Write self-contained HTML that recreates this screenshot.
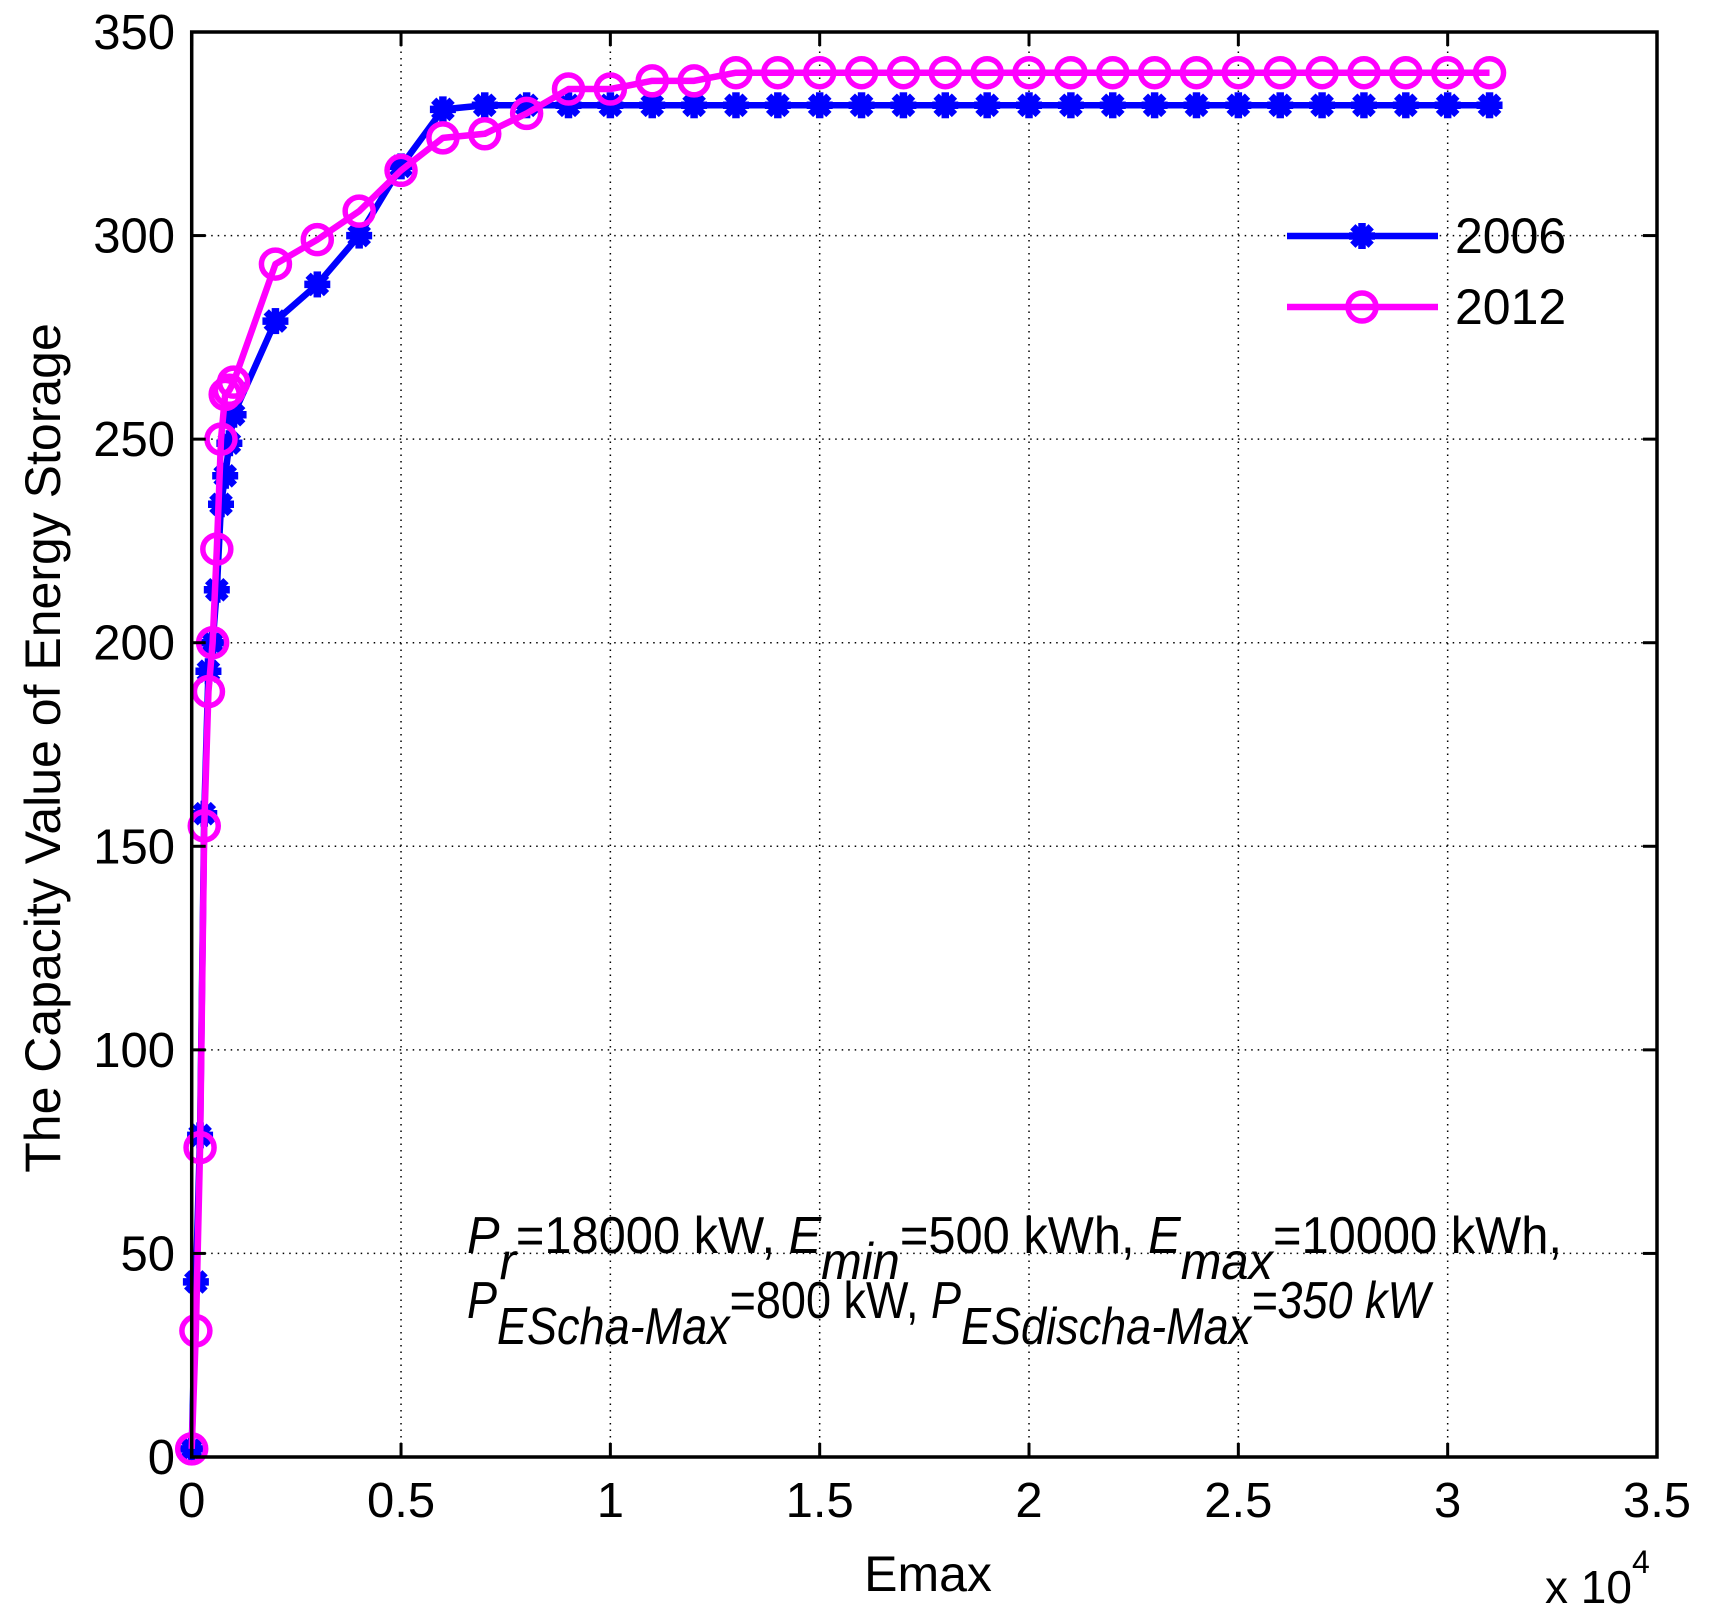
<!DOCTYPE html>
<html><head><meta charset="utf-8"><style>
html,body{margin:0;padding:0;background:#fff;}
svg{display:block;font-family:"Liberation Sans",Arial,sans-serif;}
</style></head><body>
<svg id="chart" width="1709" height="1623" viewBox="0 0 1709 1623" xmlns="http://www.w3.org/2000/svg">
<g id="grid"></g>
<g id="series"></g>
<g id="axes"></g>
<text x="928" y="1591" font-size="50" text-anchor="middle">Emax</text>
<text x="1545" y="1603" font-size="46">x 10<tspan font-size="32" dy="-30">4</tspan></text>
<text transform="translate(60,748) rotate(-90)" font-size="50" text-anchor="middle">The Capacity Value of Energy Storage</text>
<g font-size="52">
<text x="467" y="1253" textLength="1095" lengthAdjust="spacingAndGlyphs"><tspan font-style="italic">P</tspan><tspan font-style="italic" dy="26">r</tspan><tspan dy="-26">=18000 kW, </tspan><tspan font-style="italic">E</tspan><tspan font-style="italic" dy="26">min</tspan><tspan dy="-26">=500 kWh, </tspan><tspan font-style="italic">E</tspan><tspan font-style="italic" dy="26">max</tspan><tspan dy="-26">=10000 kWh,</tspan></text>
<text x="467" y="1318" textLength="963" lengthAdjust="spacingAndGlyphs"><tspan font-style="italic">P</tspan><tspan font-style="italic" dy="26">EScha-Max</tspan><tspan dy="-26">=800 kW, </tspan><tspan font-style="italic">P</tspan><tspan font-style="italic" dy="26">ESdischa-Max</tspan><tspan dy="-26" font-style="italic">=350 kW</tspan></text>
</g>
<g id="legend"></g>
</svg>
<script>
const xValues = [0,100,200,300,400,500,600,700,800,900,1000,2000,3000,4000,5000,6000,7000,8000,9000,10000,11000,12000,13000,14000,15000,16000,17000,18000,19000,20000,21000,22000,23000,24000,25000,26000,27000,28000,29000,30000,31000];
const values2006 = [2,43,79,158,193,200,213,234,241,249,256,279,288,300,317,331,332,332,332,332,332,332,332,332,332,332,332,332,332,332,332,332,332,332,332,332,332,332,332,332,332];
const values2012 = [2,31,76,155,188,200,223,250,261,262,264,293,299,306,316,324,325,330,336,336,338,338,340,340,340,340,340,340,340,340,340,340,340,340,340,340,340,340,340,340,340];
const xTicks = [0,5000,10000,15000,20000,25000,30000,35000];
const xTickLabels = ["0","0.5","1","1.5","2","2.5","3","3.5"];
const yTicks = [0,50,100,150,200,250,300,350];

const NS="http://www.w3.org/2000/svg";
const L=191.7,R=1657,T=32,B=1457;
const xMax=35000,yMax=350;
function sx(v){return L+(v/xMax)*(R-L);}
function sy(v){return B-(v/yMax)*(B-T);}
function mk(tag,attrs,parent){const e=document.createElementNS(NS,tag);for(const k in attrs)e.setAttribute(k,attrs[k]);parent.appendChild(e);return e;}
const grid=document.getElementById('grid'),axes=document.getElementById('axes'),series=document.getElementById('series'),legend=document.getElementById('legend');

xTicks.forEach((t,i)=>{
  const x=sx(t);
  if(i>0&&i<xTicks.length-1){const g=mk('line',{x1:x,y1:T,x2:x,y2:B,stroke:'#000','stroke-width':1.5,'stroke-dasharray':'1.5 5'},grid);
  
  }
  const tk=mk('line',{x1:x,y1:B,x2:x,y2:B-14,stroke:'#000','stroke-width':3},axes);
  
  
  const tk2=mk('line',{x1:x,y1:T,x2:x,y2:T+14,stroke:'#000','stroke-width':3},axes);
  
  
  const lb=mk('text',{x:x,y:1517,'font-size':49,'text-anchor':'middle'},axes);lb.textContent=xTickLabels[i];
  
  
});
yTicks.forEach((t,i)=>{
  const y=sy(t);
  if(i>0&&i<yTicks.length-1){const g=mk('line',{x1:L,y1:y,x2:R,y2:y,stroke:'#000','stroke-width':1.5,'stroke-dasharray':'1.5 5'},grid);
  
  }
  const tk=mk('line',{x1:L,y1:y,x2:L+14,y2:y,stroke:'#000','stroke-width':3},axes);
  
  
  const tk2=mk('line',{x1:R,y1:y,x2:R-14,y2:y,stroke:'#000','stroke-width':3},axes);
  
  
  const lb=mk('text',{x:175,y:y+17,'font-size':49,'text-anchor':'end'},axes);lb.textContent=String(t);
  
  
});
const frame=mk('rect',{x:L,y:T,width:R-L,height:B-T,fill:'none',stroke:'#000','stroke-width':3.5},axes);



function star(cx,cy,parent,color){
  const g=mk('g',{stroke:color,'stroke-width':7.5,'stroke-linecap':'butt'},parent);
  const r=13;
  for(let a=0;a<4;a++){const ang=a*Math.PI/4;mk('line',{x1:cx-r*Math.cos(ang),y1:cy-r*Math.sin(ang),x2:cx+r*Math.cos(ang),y2:cy+r*Math.sin(ang)},g);}
  return g;
}
function circ(cx,cy,parent,color){return mk('circle',{cx:cx,cy:cy,r:14,fill:'none',stroke:color,'stroke-width':5.5},parent);}

function drawSeries(vals,color,name,marker){
  const g=mk('g',{},series);
  
  
  const pts=vals.map((v,i)=>sx(xValues[i])+','+sy(v)).join(' ');
  const pl=mk('polyline',{points:pts,fill:'none',stroke:color,'stroke-width':6.5,'stroke-linejoin':'round'},g);
  
  
  vals.forEach((v,i)=>{const m=marker(sx(xValues[i]),sy(v),g,color);
    
    });
}
drawSeries(values2006,'#0000ff','series-2006',star);
drawSeries(values2012,'#ff00ff','series-2012',circ);

function legendEntry(y,color,label,marker,name){
  const g=mk('g',{},legend);
  
  
  mk('line',{x1:1287,y1:y,x2:1438,y2:y,stroke:color,'stroke-width':6.5},g);
  marker(1362,y,g,color);
  const t=mk('text',{x:1455,y:y+17,'font-size':50},g);t.textContent=label;
}
legendEntry(236,'#0000ff','2006',star,'legend-entry-2006');
legendEntry(307,'#ff00ff','2012',circ,'legend-entry-2012');
</script>
</body></html>
